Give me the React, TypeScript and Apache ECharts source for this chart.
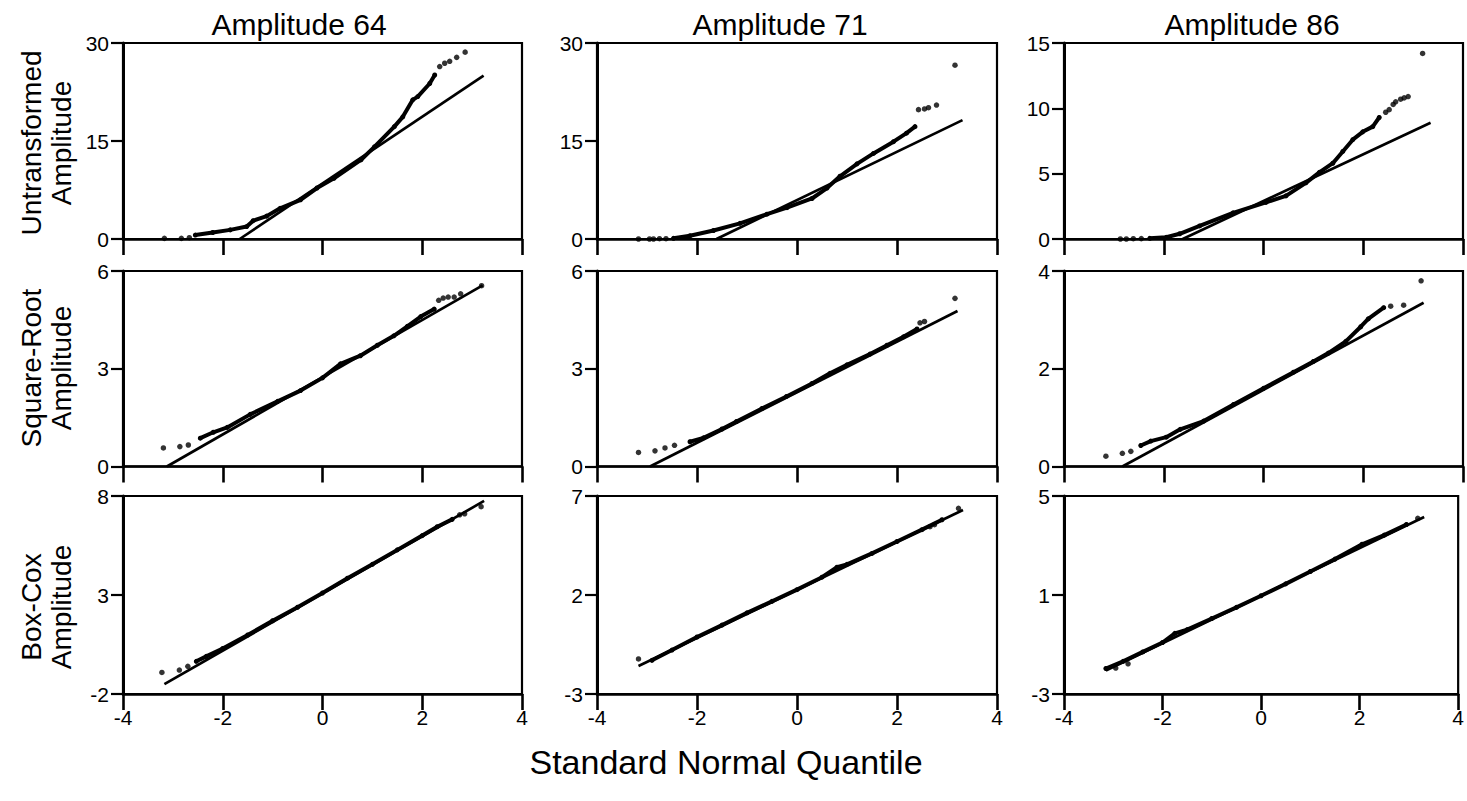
import React, { useEffect, useRef } from "react";
import * as echarts from "echarts";

// ---------- texts ----------
const columnTitles = ["Amplitude 64", "Amplitude 71", "Amplitude 86"];
const rowTitles = ["Untransformed\nAmplitude", "Square-Root\nAmplitude", "Box-Cox\nAmplitude"];
const xAxisTitle = "Standard Normal Quantile";

// ---------- axis ticks ----------
const xTicks = [-4, -2, 0, 2, 4];
const yTicksRaw64 = [0, 15, 30];
const yTicksRaw71 = [0, 15, 30];
const yTicksRaw86 = [0, 5, 10, 15];
const yTicksSqrt64 = [0, 3, 6];
const yTicksSqrt71 = [0, 3, 6];
const yTicksSqrt86 = [0, 2, 4];
const yTicksBox64 = [-2, 3, 8];
const yTicksBox71 = [-3, 2, 7];
const yTicksBox86 = [-3, 1, 5];

// ---------- data: [normal quantile, amplitude] ----------
// Untransformed, amplitude 64
const fitRaw64 = [[-1.66, 0], [3.23, 25]];
const denseRaw64 = [[-2.55, 0.6], [-2.2, 1.0], [-1.85, 1.4], [-1.52, 1.9], [-1.39, 2.8], [-1.12, 3.5], [-0.85, 4.7], [-0.44, 6.0], [-0.11, 7.8], [0.23, 9.3], [0.77, 12.1], [1.04, 14.1], [1.44, 17.2], [1.61, 18.7], [1.81, 21.3], [1.91, 21.8], [2.15, 23.8], [2.25, 25.1]];
const tailsRaw64 = [[-3.17, 0.1], [-2.83, 0.1], [-2.67, 0.2], [2.35, 26.4], [2.45, 26.9], [2.55, 27.2], [2.69, 27.8], [2.86, 28.6]];
// Untransformed, amplitude 71
const fitRaw71 = [[-1.61, 0], [3.31, 18.2]];
const denseRaw71 = [[-2.47, 0.1], [-2.14, 0.5], [-1.67, 1.3], [-1.14, 2.4], [-0.6, 3.8], [-0.2, 4.8], [0.3, 6.2], [0.6, 7.8], [0.86, 9.6], [1.2, 11.5], [1.53, 13.1], [1.93, 14.9], [2.19, 16.2], [2.36, 17.2]];
const tailsRaw71 = [[-3.17, 0], [-2.95, 0], [-2.87, 0], [-2.75, 0.05], [-2.62, 0.05], [2.43, 19.8], [2.55, 19.9], [2.63, 20.1], [2.79, 20.5], [3.16, 26.6]];
// Untransformed, amplitude 86
const fitRaw86 = [[-1.62, 0], [3.35, 8.9]];
const denseRaw86 = [[-2.28, 0.05], [-1.95, 0.13], [-1.68, 0.4], [-1.28, 1.0], [-0.61, 2.0], [0.05, 2.8], [0.45, 3.3], [0.85, 4.3], [1.12, 5.1], [1.39, 5.8], [1.59, 6.7], [1.79, 7.6], [1.99, 8.2], [2.19, 8.6], [2.32, 9.3]];
const tailsRaw86 = [[-2.87, 0], [-2.75, 0], [-2.61, 0.02], [-2.45, 0.03], [2.45, 9.7], [2.52, 9.9], [2.6, 10.3], [2.65, 10.5], [2.75, 10.7], [2.82, 10.8], [2.9, 10.9], [3.19, 14.2]];
// Square-root, amplitude 64
const fitSqrt64 = [[-3.12, 0], [3.21, 5.56]];
const denseSqrt64 = [[-2.45, 0.87], [-2.19, 1.05], [-1.91, 1.2], [-1.45, 1.6], [-0.9, 2.0], [-0.44, 2.33], [0, 2.72], [0.36, 3.15], [0.76, 3.4], [1.1, 3.72], [1.43, 4.01], [1.7, 4.3], [1.97, 4.6], [2.24, 4.83]];
const tailsSqrt64 = [[-3.19, 0.57], [-2.86, 0.61], [-2.69, 0.66], [2.33, 5.1], [2.42, 5.17], [2.52, 5.2], [2.64, 5.2], [2.77, 5.3], [3.19, 5.55]];
// Square-root, amplitude 71
const fitSqrt71 = [[-2.94, 0], [3.21, 4.77]];
const denseSqrt71 = [[-2.14, 0.76], [-1.87, 0.88], [-1.5, 1.15], [-1.21, 1.38], [-0.7, 1.78], [-0.21, 2.15], [0.3, 2.55], [0.66, 2.86], [1.0, 3.12], [1.46, 3.45], [1.8, 3.72], [2.13, 3.98], [2.4, 4.22]];
const tailsSqrt71 = [[-3.17, 0.43], [-2.84, 0.48], [-2.64, 0.57], [-2.45, 0.65], [2.46, 4.41], [2.55, 4.45], [3.16, 5.16]];
// Square-root, amplitude 86
const fitSqrt86 = [[-2.83, 0], [3.21, 3.35]];
const denseSqrt86 = [[-2.46, 0.43], [-2.26, 0.52], [-1.95, 0.6], [-1.67, 0.76], [-1.2, 0.93], [-0.6, 1.27], [0, 1.6], [0.6, 1.93], [1.0, 2.15], [1.3, 2.32], [1.65, 2.56], [1.95, 2.86], [2.1, 3.02], [2.41, 3.25]];
const tailsSqrt86 = [[-3.16, 0.21], [-2.83, 0.27], [-2.66, 0.31], [2.55, 3.28], [2.81, 3.3], [3.16, 3.8]];
// Box-Cox, amplitude 64
const fitBox64 = [[-3.17, -1.5], [3.24, 7.75]];
const denseBox64 = [[-2.53, -0.35], [-2.33, -0.1], [-2.0, 0.3], [-1.5, 0.98], [-1.0, 1.7], [-0.5, 2.38], [0, 3.1], [0.5, 3.85], [1.0, 4.55], [1.5, 5.28], [2.0, 6.0], [2.3, 6.45], [2.6, 6.82]];
const tailsBox64 = [[-3.22, -0.91], [-2.87, -0.79], [-2.7, -0.6], [2.75, 7.05], [2.85, 7.1], [3.18, 7.46]];
// Box-Cox, amplitude 71
const fitBox71 = [[-3.17, -1.59], [3.32, 6.29]];
const denseBox71 = [[-2.9, -1.3], [-2.5, -0.78], [-2.0, -0.12], [-1.5, 0.48], [-1.0, 1.1], [-0.5, 1.68], [0, 2.27], [0.5, 2.9], [0.8, 3.4], [1.0, 3.55], [1.5, 4.1], [2.0, 4.7], [2.5, 5.3], [2.9, 5.8]];
const tailsBox71 = [[-3.17, -1.23], [2.66, 5.45], [2.75, 5.55], [3.23, 6.38]];
// Box-Cox, amplitude 86
const fitBox86 = [[-3.15, -2.05], [3.31, 4.15]];
const denseBox86 = [[-3.15, -1.97], [-2.8, -1.68], [-2.4, -1.3], [-2.0, -0.92], [-1.75, -0.55], [-1.5, -0.4], [-1.0, 0.05], [-0.5, 0.5], [0, 0.97], [0.5, 1.45], [1.0, 1.95], [1.5, 2.45], [2.05, 3.05], [2.5, 3.42], [2.95, 3.85]];
const tailsBox86 = [[-2.95, -1.95], [-2.7, -1.78], [3.18, 4.1]];

// panel table (row-major)
const panels = [
  { ticks: yTicksRaw64, fit: fitRaw64, dense: denseRaw64, tails: tailsRaw64 },
  { ticks: yTicksRaw71, fit: fitRaw71, dense: denseRaw71, tails: tailsRaw71 },
  { ticks: yTicksRaw86, fit: fitRaw86, dense: denseRaw86, tails: tailsRaw86 },
  { ticks: yTicksSqrt64, fit: fitSqrt64, dense: denseSqrt64, tails: tailsSqrt64 },
  { ticks: yTicksSqrt71, fit: fitSqrt71, dense: denseSqrt71, tails: tailsSqrt71 },
  { ticks: yTicksSqrt86, fit: fitSqrt86, dense: denseSqrt86, tails: tailsSqrt86 },
  { ticks: yTicksBox64, fit: fitBox64, dense: denseBox64, tails: tailsBox64 },
  { ticks: yTicksBox71, fit: fitBox71, dense: denseBox71, tails: tailsBox71 },
  { ticks: yTicksBox86, fit: fitBox86, dense: denseBox86, tails: tailsBox86 },
];

// ---------- layout / style ----------
const INK = "#000000";
const FONT = "'Liberation Sans', Arial, Helvetica, sans-serif";
const COL_LEFT = [123, 597, 1064];
const COL_WIDTH = [399, 400, 399];
const ROW_TOP = [43, 271, 496];
const ROW_HEIGHT = [196, 195.5, 198];
const COL_TITLE_X = [299, 780, 1252];
const ROW_TITLE_Y = [143, 368, 607];

function buildOption() {
  const grid: any[] = [];
  const xAxis: any[] = [];
  const yAxis: any[] = [];
  const series: any[] = [];

  panels.forEach((p, i) => {
    const r = Math.floor(i / 3);
    const c = i % 3;
    const t0 = p.ticks[0];
    const tN = p.ticks[p.ticks.length - 1];
    grid.push({
      left: COL_LEFT[c],
      top: ROW_TOP[r],
      width: COL_WIDTH[c],
      height: ROW_HEIGHT[r],
      show: true,
      borderColor: INK,
      borderWidth: 2.2,
      backgroundColor: "transparent",
    });
    xAxis.push({
      gridIndex: i,
      type: "value",
      position: "bottom",
      min: xTicks[0],
      max: xTicks[xTicks.length - 1],
      interval: xTicks[1] - xTicks[0],
      axisLine: { show: true, onZero: false, lineStyle: { color: INK, width: 2.6 } },
      axisTick: { show: true, inside: false, length: 16, lineStyle: { color: INK, width: 2.6 } },
      axisLabel: { show: r === 2, margin: 13, fontSize: 21, color: INK, fontFamily: FONT },
      splitLine: { show: false },
    });
    // data axis
    yAxis.push({
      gridIndex: i,
      type: "value",
      position: "left",
      min: t0,
      max: tN,
      axisLine: { show: true, onZero: false, lineStyle: { color: INK, width: 3 } },
      axisTick: { show: false },
      axisLabel: { show: false },
      splitLine: { show: false },
    });
    // tick / label axis (offset so that ticks begin at the first tick value)
    yAxis.push({
      gridIndex: i,
      type: "value",
      position: "left",
      offset: 0,
      min: 0,
      max: tN - t0,
      interval: p.ticks[1] - p.ticks[0],
      axisLine: { show: false, onZero: false },
      axisTick: { show: true, inside: false, length: 12, lineStyle: { color: INK, width: 2.2 } },
      axisLabel: {
        show: true,
        margin: 14,
        fontSize: 21,
        color: INK,
        fontFamily: FONT,
        formatter: (v: number) => String(Math.round((v + t0) * 100) / 100),
      },
      splitLine: { show: false },
    });

    series.push({
      type: "line",
      xAxisIndex: i,
      yAxisIndex: 2 * i,
      data: p.fit,
      showSymbol: false,
      silent: true,
      lineStyle: { color: INK, width: 2.7 },
    });
    series.push({
      type: "line",
      xAxisIndex: i,
      yAxisIndex: 2 * i,
      data: p.dense,
      symbol: "circle",
      symbolSize: 5,
      showSymbol: true,
      silent: true,
      itemStyle: { color: INK },
      lineStyle: { color: INK, width: 4, join: "round", cap: "round" },
    });
    series.push({
      type: "scatter",
      xAxisIndex: i,
      yAxisIndex: 2 * i,
      data: p.tails,
      symbol: "circle",
      symbolSize: 5.5,
      silent: true,
      itemStyle: { color: INK },
    });
  });

  const graphic: any[] = [];
  columnTitles.forEach((t, c) => {
    graphic.push({
      type: "text",
      x: COL_TITLE_X[c],
      y: 24,
      style: { text: t, fill: INK, font: `30px ${FONT}`, textAlign: "center", textVerticalAlign: "middle" },
    });
  });
  rowTitles.forEach((t, r) => {
    graphic.push({
      type: "text",
      x: 46,
      y: ROW_TITLE_Y[r],
      rotation: Math.PI / 2,
      style: { text: t, fill: INK, font: `28px ${FONT}`, lineHeight: 30, textAlign: "center", textVerticalAlign: "middle" },
    });
  });
  graphic.push({
    type: "text",
    x: 726,
    y: 762,
    style: { text: xAxisTitle, fill: INK, font: `34px ${FONT}`, textAlign: "center", textVerticalAlign: "middle" },
  });

  return {
    animation: false,
    backgroundColor: "#ffffff",
    grid,
    xAxis,
    yAxis,
    series,
    graphic,
  };
}

export default function App() {
  const ref = useRef<HTMLDivElement>(null);
  useEffect(() => {
    if (!ref.current) return;
    const chart = echarts.init(ref.current, null, { renderer: "svg" });
    chart.setOption(buildOption() as any);
    return () => chart.dispose();
  }, []);
  return (
    <div
      ref={ref}
      style={{ position: "fixed", left: 0, top: 0, width: 1467, height: 801, background: "#fff" }}
    />
  );
}
